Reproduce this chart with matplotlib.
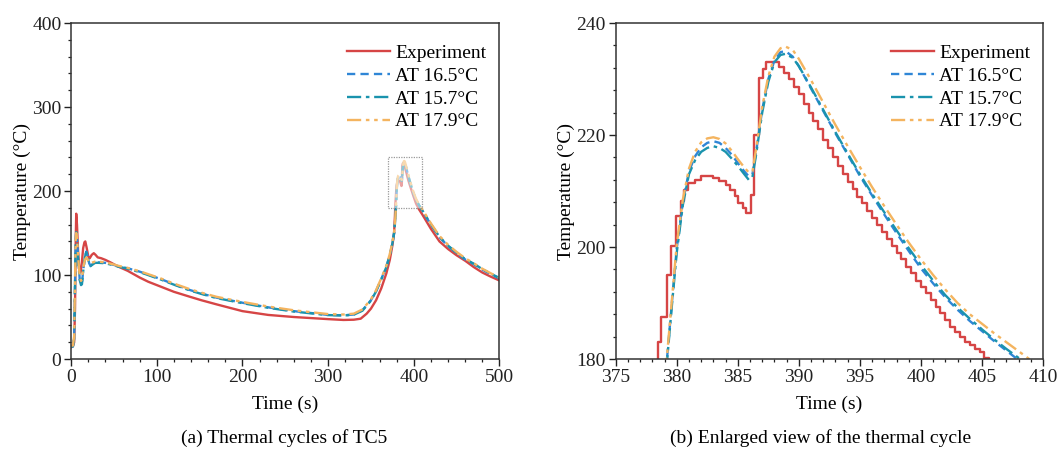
import matplotlib
matplotlib.use("Agg")
import matplotlib.pyplot as plt
from matplotlib.patches import Rectangle
from matplotlib.ticker import MultipleLocator

plt.rcParams['font.family'] = ['Liberation Serif', 'DejaVu Serif']
plt.rcParams['mathtext.fontset'] = 'stix'

# Experiment (TC5) - measured temperature
exp_time = [0, 2, 3.5, 4.5, 5.3, 5.9, 6.8, 8, 9.5, 11, 12.5, 14, 15.5, 16.5, 18, 20,
            21.7, 24, 26.4, 28.5, 31, 35, 40, 46, 55, 66, 80, 90, 105, 120, 139, 152,
            170, 200, 230, 260, 300, 318, 330, 338, 345, 350, 356, 362, 368, 372, 375,
            377, 378,
            378.45, 378.7, 379.2, 379.5, 379.95, 380.35, 380.6, 380.95, 381.5, 382.0,
            383.0, 383.5, 384.0, 384.4, 384.75, 385.05, 385.4, 385.65, 386.05, 386.35,
            386.7, 387.05, 387.3,
            388.4, 388.8, 389.2, 389.6, 390.0, 390.4, 390.8, 391.2, 391.6, 392.0, 392.4,
            392.8, 393.2, 393.6, 394.0, 394.4, 394.8, 395.2, 395.6, 396.0, 396.4, 396.8,
            397.2, 397.6, 398.0, 398.4, 398.8, 399.2, 399.6, 400.0, 400.4, 400.8, 401.2,
            401.6, 402.0, 402.4, 402.8, 403.2, 403.6, 404.0, 404.4, 404.8, 405.2, 405.6,
            410, 420, 430, 440, 450, 460, 470, 480, 490, 500]
exp_temp = [14, 15, 20, 60, 140, 173, 160, 130, 105, 103, 115, 132, 139, 140, 133, 122,
            120, 124, 126, 124, 121, 120, 118, 115, 110, 105, 97, 92, 86, 80, 74, 70,
            65, 57, 52.5, 50, 47.5, 46.5, 46.8, 48, 54, 60, 70, 84, 102, 118, 135,
            150, 170,
            183.0, 187.5, 195.0, 200.2, 205.5, 208.3, 210.2, 211.5, 212.0, 212.6,
            212.3, 211.8, 211.0, 210.2, 209.2, 207.8, 207.0, 206.0, 209.3, 220.0,
            230.1, 231.8, 233.0,
            232.2, 231.0, 230.0, 228.5, 227.3, 225.5, 224.0, 222.5, 221.0, 219.2, 217.6,
            216.0, 214.5, 213.0, 211.6, 210.4, 209.0, 207.8, 206.5, 205.2, 204.0, 202.6,
            201.5, 200.2, 199.0, 197.8, 196.5, 195.3, 194.0, 192.8, 191.8, 190.5, 189.3,
            188.2, 187.0, 185.8, 184.8, 184.0, 183.0, 182.5, 181.8, 181.2, 180.2, 179.0,
            172, 155, 140, 131, 123.5, 117, 109.5, 103, 98, 93.5]

# Simulations with different ambient temperatures
sim_time = [0, 2, 3.5, 4.5, 5.3, 5.9, 7, 8.5, 10, 11.5, 12.6, 14, 16, 17.7, 19.5, 21,
            22.5, 25, 28, 32, 40, 50, 55, 66, 80, 105, 120, 139, 152, 170, 200, 230,
            260, 300, 318, 330, 340, 345, 350, 356, 362, 368, 372, 375, 377, 378.3,
            379.2, 379.6, 380.0, 380.5, 381.0, 381.5, 382.0, 382.5, 383.0, 383.5, 384.0,
            384.5, 385.0, 385.5, 385.9, 386.2, 386.5, 387.0, 387.5, 388.0, 388.5, 388.9,
            389.5, 390.0, 391.0, 392.0, 393.0, 394.0, 395.0, 396.0, 397.0, 398.0, 399.0,
            400.0, 401.0, 402.0, 403.0, 404.0, 405.0, 406.0, 407.0, 408.0, 409.0, 410,
            420, 430, 440, 450, 460, 470, 480, 490, 500]
at165_temp = [15, 15, 25, 90, 140, 153, 140, 115, 95, 89, 90, 105, 122, 128, 122, 114,
              111, 113, 115, 115, 114.5, 112, 110.5, 108, 104, 95, 89, 82, 78, 73, 67, 61.5,
              57, 52.5, 52, 53, 58, 64, 70, 81, 95, 110, 124, 138, 150, 165,
              180.0, 190.0, 199.8, 208.0, 213.5, 216.2, 217.8, 218.6, 218.9, 218.6, 217.7,
              216.5, 215.0, 213.6, 212.6, 213.0, 217.0, 224.5, 230.0, 233.3, 234.8, 235.0,
              234.0, 232.3, 228.3, 224.3, 220.3, 216.5, 212.7, 209.2, 205.8, 202.5, 199.3,
              196.2, 193.5, 191.0, 188.8, 186.8, 185.0, 183.2, 181.5, 179.8, 178.2, 176.5,
              160, 145, 134.5, 126, 118.5, 113, 106.5, 101, 96]
at157_temp = [15, 15, 24, 88, 138, 151, 139, 114, 94, 88, 89, 104, 121, 127, 121, 113,
              110.5, 112.5, 114.5, 114.5, 114, 111.5, 110, 107.5, 103.5, 94.5, 88.5, 81.5,
              77.5, 72.5, 66.5, 61, 56.5, 52.3, 51.8, 52.8, 57.5, 63.5, 69.5, 80.5, 94.5,
              109.5, 123.5, 137.5, 149.5, 164.5,
              179.5, 189.5, 199.0, 207.5, 213.0, 215.5, 217.0, 217.7, 218.0, 217.7, 217.0,
              215.8, 214.5, 213.1, 212.0, 212.5, 216.5, 224.0, 229.5, 233.0, 234.3, 234.5,
              233.8, 232.3, 228.5, 224.5, 220.5, 216.7, 213.0, 209.5, 206.2, 203.0, 199.8,
              196.8, 194.0, 191.4, 189.2, 187.2, 185.3, 183.5, 181.8, 180.2, 178.6, 177,
              160.5, 145.5, 135, 126.5, 119, 113.5, 107, 101.5, 96.5]
at179_temp = [16, 16, 27, 92, 142, 150, 141, 117, 98, 93, 95, 108, 118, 121, 118, 115,
              114, 115, 116, 116, 115, 112.5, 111, 108.5, 104.5, 95.8, 89.8, 83, 79, 74,
              68, 62.5, 58, 53.5, 53, 54, 59, 65, 71, 82, 96, 111, 125, 139, 151, 166,
              180.5, 190.5, 200.5, 208.5, 214.0, 217.0, 218.7, 219.4, 219.6, 219.3, 218.5,
              217.2, 215.7, 214.3, 213.3, 213.5, 217.5, 225.0, 230.5, 234.0, 235.5, 235.8,
              235.2, 233.6, 229.8, 225.8, 221.8, 218.0, 214.3, 210.7, 207.3, 204.0, 200.8,
              197.8, 195.0, 192.4, 190.0, 188.0, 186.3, 184.6, 183.0, 181.4, 179.8, 178.2,
              161.5, 146.5, 136, 127.5, 120, 114, 107.5, 102, 97]

labels = ['Experiment', 'AT 16.5\u00b0C', 'AT 15.7\u00b0C', 'AT 17.9\u00b0C']
colors = ['#d64545', '#2f86d6', '#1a93ad', '#f4b45f']
styles = ['-', (0, (3.5, 2.2)), (0, (6, 2, 1.5, 2)), (0, (6, 2, 1.5, 2, 1.5, 2))]

fs = 14

fig = plt.figure(figsize=(10.59, 4.49), dpi=100)
ax1 = fig.add_axes([0.0672, 0.2004, 0.4044, 0.7483])
ax2 = fig.add_axes([0.5814, 0.2004, 0.4035, 0.7483])

sims = [at165_temp, at157_temp, at179_temp]

# (a) full thermal cycle
ax1.plot(exp_time, exp_temp, color=colors[0], ls=styles[0], lw=1.7, label=labels[0])
for i in range(3):
    ax1.plot(sim_time, sims[i], color=colors[i + 1], ls=styles[i + 1], lw=1.7,
             label=labels[i + 1])
# faded zoom region
ax1.add_patch(Rectangle((370, 180), 40, 60, facecolor='white', alpha=0.5,
                        edgecolor='none', zorder=5))
ax1.add_patch(Rectangle((370, 180), 40, 60, facecolor='none', edgecolor='#999999',
                        lw=0.9, ls=(0, (1, 1)), zorder=6))
ax1.set_xlim(0, 500)
ax1.set_ylim(0, 400)
ax1.xaxis.set_major_locator(MultipleLocator(100))
ax1.xaxis.set_minor_locator(MultipleLocator(20))
ax1.yaxis.set_major_locator(MultipleLocator(100))
ax1.yaxis.set_minor_locator(MultipleLocator(20))

# (b) enlarged view
ax2.plot(exp_time, exp_temp, color=colors[0], ls=styles[0], lw=1.7,
         drawstyle='steps-post', label=labels[0])
for i in range(3):
    ax2.plot(sim_time, sims[i], color=colors[i + 1], ls=styles[i + 1], lw=1.7,
             label=labels[i + 1])
ax2.set_xlim(375, 410)
ax2.set_ylim(180, 240)
ax2.xaxis.set_major_locator(MultipleLocator(5))
ax2.xaxis.set_minor_locator(MultipleLocator(1))
ax2.yaxis.set_major_locator(MultipleLocator(20))
ax2.yaxis.set_minor_locator(MultipleLocator(4))

for ax in (ax1, ax2):
    for sp in ax.spines.values():
        sp.set_linewidth(1.1)
        sp.set_color('#333333')
    ax.tick_params(which='major', direction='out', length=5, width=1.0,
                   labelsize=fs, colors='#222222', pad=2)
    ax.tick_params(which='minor', direction='out', length=2.5, width=0.9,
                   colors='#222222')
    ax.set_xlabel('Time (s)', fontsize=fs, labelpad=7)
    ax.set_ylabel('Temperature (\u00b0C)', fontsize=fs, labelpad=1)
    ax.legend(loc='upper left', bbox_to_anchor=(0.645, 0.937), frameon=False,
              fontsize=fs, handlelength=2.2, handletextpad=0.25, labelspacing=0.27,
              borderpad=0, borderaxespad=0)

fig.text(0.268, 0.014, '(a) Thermal cycles of TC5', ha='center', fontsize=fs)
fig.text(0.775, 0.014, '(b) Enlarged view of the thermal cycle', ha='center',
         fontsize=fs)

fig.savefig('out.png', dpi=100)
